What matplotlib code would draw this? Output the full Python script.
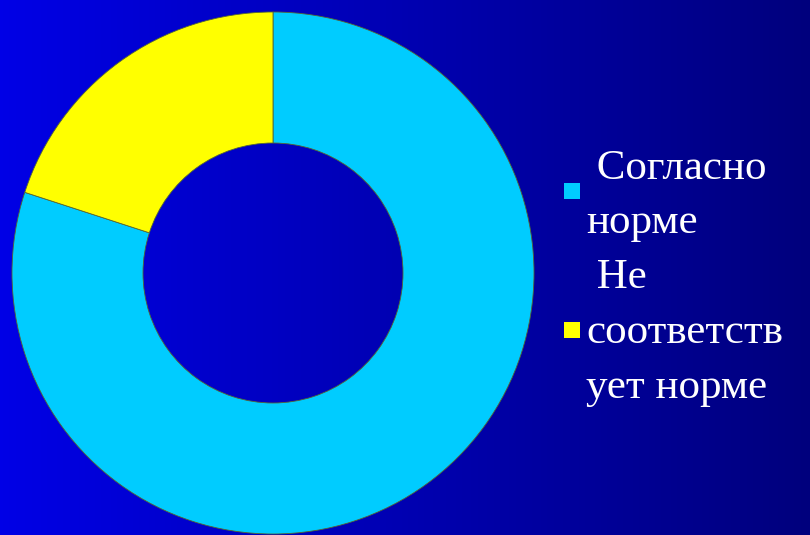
import matplotlib
matplotlib.use("Agg")
import matplotlib.pyplot as plt
import numpy as np

# data
shares = [80, 20]
labels = ["Согласно норме", "Не соответствует норме"]
label_lines = [[" Согласно", "норме"], [" Не", "соответств", "ует норме"]]
slice_colors = ["#00CCFF", "#FFFF00"]

W, H = 810, 535
fig = plt.figure(figsize=(W / 100, H / 100), dpi=100)

# background gradient, bright blue on the left to navy on the right
bg = fig.add_axes([0, 0, 1, 1])
grad = np.linspace(0, 1, 256).reshape(1, -1)
left = np.array([0, 0, 230]) / 255
right = np.array([0, 0, 125]) / 255
img = left[None, None, :] * (1 - grad[..., None]) + right[None, None, :] * grad[..., None]
bg.imshow(img, aspect="auto", extent=[0, 1, 0, 1])
bg.set_axis_off()

# axes in pixel units, y going up
ax = fig.add_axes([0, 0, 1, 1])
ax.patch.set_alpha(0)
ax.pie(shares, colors=slice_colors, startangle=90, counterclock=False,
       center=(273, 262), radius=261,
       wedgeprops=dict(width=131, edgecolor="#556633", linewidth=0.6))
ax.set_xlim(0, W)
ax.set_ylim(0, H)
ax.set_aspect("auto")
ax.set_axis_off()

# legend drawn by hand: markers + wrapped labels
font = dict(family="Liberation Serif", size=31, color="white")
marker_y = [344, 205]
line_y = [[356, 302], [247, 192, 137]]
for i, lines in enumerate(label_lines):
    ax.add_patch(plt.Rectangle((564, marker_y[i] - 8), 16, 16,
                               facecolor=slice_colors[i], edgecolor="none"))
    for txt, y in zip(lines, line_y[i]):
        ax.text(586, y, txt, va="baseline", ha="left", **font)

fig.savefig("out.png", dpi=100)
